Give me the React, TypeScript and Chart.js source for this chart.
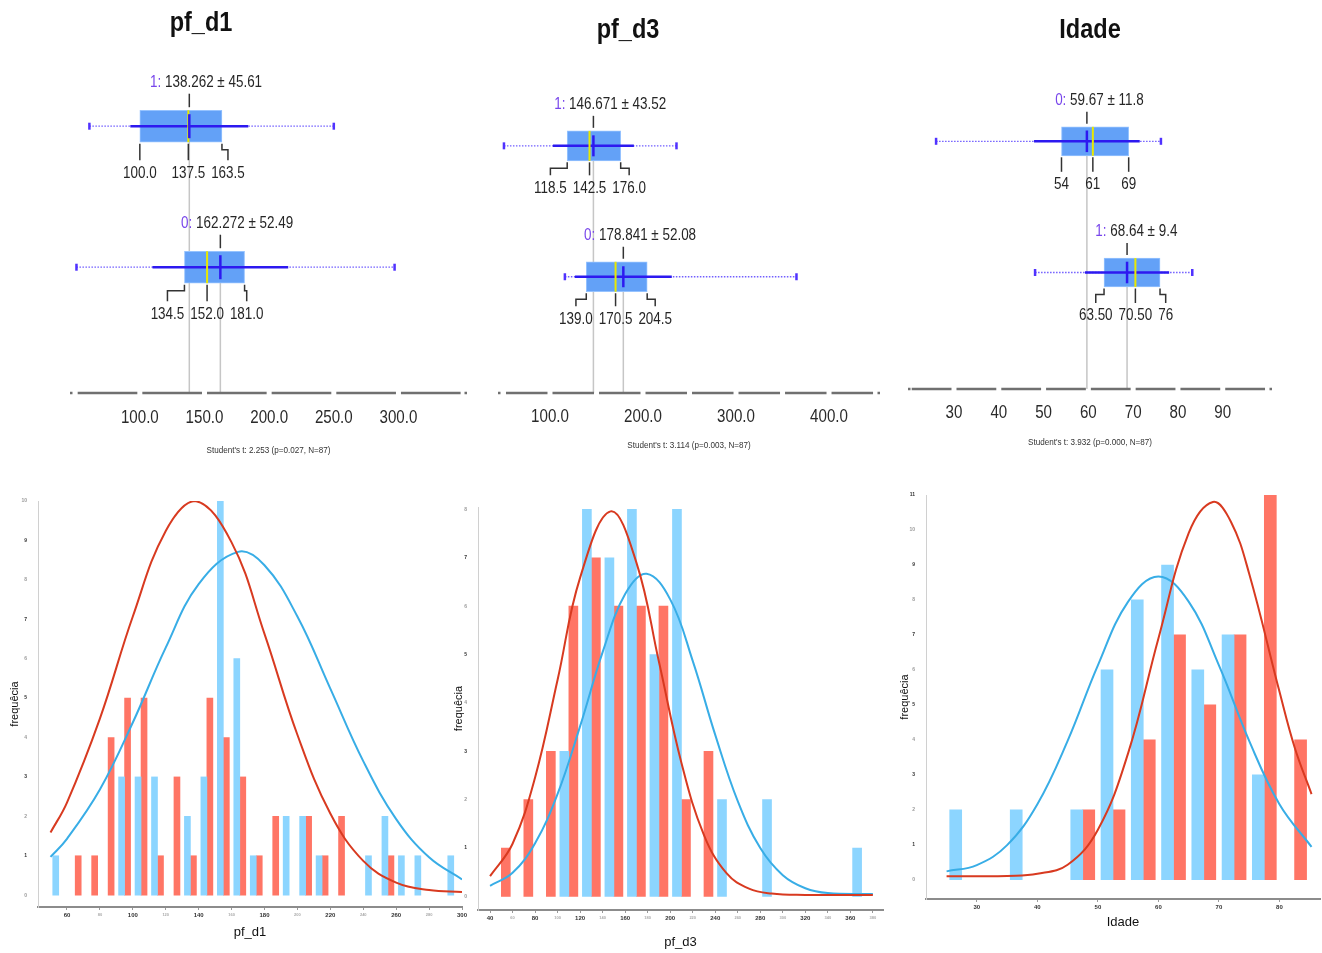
import React, { useEffect, useRef } from 'react';
import { Chart, registerables } from 'chart.js';

Chart.register(...registerables);

const SANS = '"Liberation Sans", Arial, sans-serif';

// ================= pf_d1 : box plot statistics =================
const d1Groups = ['1', '0'];
const d1Mean = [138.262, 162.272];
const d1Sd = [45.61, 52.49];
const d1Q1 = [100.0, 134.5];
const d1Median = [137.5, 152.0];
const d1Q3 = [163.5, 181.0];
const d1Min = [61, 51];
const d1Max = [250, 297];
const d1AxisTicks = [100, 150, 200, 250, 300];
const d1AxisGaps = [50, 100, 150, 200, 250, 300, 350];
const d1TTest = "Student's t: 2.253 (p=0.027, N=87)";

// ================= pf_d3 : box plot statistics =================
const d3Groups = ['1', '0'];
const d3Mean = [146.671, 178.841];
const d3Sd = [43.52, 52.08];
const d3Q1 = [118.5, 139.0];
const d3Median = [142.5, 170.5];
const d3Q3 = [176.0, 204.5];
const d3Min = [50.5, 116];
const d3Max = [236, 365];
const d3AxisTicks = [100, 200, 300, 400];
const d3AxisGaps = [50, 100, 150, 200, 250, 300, 350, 400, 450];
const d3TTest = "Student's t: 3.114 (p=0.003, N=87)";

// ================= Idade : box plot statistics =================
const idGroups = ['0', '1'];
const idMean = [59.67, 68.64];
const idSd = [11.8, 9.4];
const idQ1 = [54, 63.5];
const idMedian = [61, 70.5];
const idQ3 = [69, 76];
const idMin = [26, 48.1];
const idMax = [76.2, 83.2];
const idQLabels = [['54', '61', '69'], ['63.50', '70.50', '76']];
const idAxisTicks = [30, 40, 50, 60, 70, 80, 90];
const idAxisGaps = [20, 30, 40, 50, 60, 70, 80, 90, 100];
const idTTest = "Student's t: 3.932 (p=0.000, N=87)";

// ================= pf_d1 : histogram =================
const h1BinWidth = 10;
const h1BlueBins = [50, 90, 100, 110, 130, 140, 150, 160, 170, 190, 200, 210, 240, 250, 260, 270, 290];
const h1BlueCounts = [1, 3, 3, 3, 2, 3, 10, 6, 1, 2, 2, 1, 1, 2, 1, 1, 1];
const h1RedBins = [60, 70, 80, 90, 100, 110, 120, 130, 140, 150, 160, 170, 180, 200, 210, 220, 250];
const h1RedCounts = [1, 1, 4, 5, 5, 1, 3, 1, 5, 4, 3, 1, 2, 2, 1, 2, 1];
const h1RedCurveX = [50, 60, 80, 100, 120, 138, 160, 180, 200, 220, 240, 260, 280, 300];
const h1RedCurveY = [1.59, 2.35, 4.48, 7.07, 9.24, 10.0, 8.95, 6.63, 4.07, 2.07, 0.87, 0.32, 0.13, 0.08];
const h1BlueCurveX = [50, 60, 80, 100, 120, 140, 164, 180, 200, 220, 240, 260, 280, 300];
const h1BlueCurveY = [0.97, 1.43, 2.68, 4.38, 6.28, 7.89, 8.71, 8.37, 7.07, 5.24, 3.4, 1.93, 0.96, 0.4];
const h1XTicks = [60, 80, 100, 120, 140, 160, 180, 200, 220, 240, 260, 280, 300];
const h1XMajor = [60, 100, 140, 180, 220, 260, 300];
const h1YTicks = [0, 1, 2, 3, 4, 5, 6, 7, 8, 9, 10];

// ================= pf_d3 : histogram =================
const h2BinWidth = 20;
const h2BlueBins = [100, 120, 140, 160, 180, 200, 240, 280, 360];
const h2BlueCounts = [3, 8, 7, 8, 5, 8, 2, 2, 1];
const h2RedBins = [40, 60, 80, 100, 120, 140, 160, 180, 200, 220];
const h2RedCounts = [1, 2, 3, 6, 7, 6, 6, 6, 2, 3];
const h2RedCurveX = [40, 60, 80, 100, 120, 147, 170, 190, 210, 230, 250, 270, 290, 320, 350, 380];
const h2RedCurveY = [0.42, 1.09, 2.46, 4.48, 6.59, 7.96, 6.9, 4.85, 2.76, 1.27, 0.48, 0.16, 0.06, 0.03, 0.03, 0.03];
const h2BlueCurveX = [40, 60, 80, 100, 120, 140, 160, 179, 200, 220, 240, 260, 280, 300, 320, 340, 380];
const h2BlueCurveY = [0.22, 0.49, 1.1, 2.12, 3.52, 5.05, 6.25, 6.67, 6.14, 4.87, 3.34, 1.97, 1.0, 0.44, 0.17, 0.07, 0.05];
const h2XTicks = [40, 60, 80, 100, 120, 140, 160, 180, 200, 220, 240, 260, 280, 300, 320, 340, 360, 380];
const h2XMajor = [40, 80, 120, 160, 200, 240, 280, 320, 360];
const h2YTicks = [0, 1, 2, 3, 4, 5, 6, 7, 8];

// ================= Idade : histogram =================
const h3BinWidth = 5;
const h3BlueBins = [25, 35, 45, 50, 55, 60, 65, 70, 75];
const h3BlueCounts = [2, 2, 2, 6, 8, 9, 6, 7, 3];
const h3RedBins = [45, 50, 55, 60, 65, 70, 75, 80];
const h3RedCounts = [2, 2, 4, 7, 5, 7, 11, 4];
const h3RedCurveX = [25, 30, 35, 40, 45, 50, 55, 60, 65, 69, 72, 75, 80, 82.5, 85.3];
const h3RedCurveY = [0.1, 0.1, 0.11, 0.17, 0.43, 1.43, 3.62, 6.9, 9.91, 10.8, 10.23, 8.75, 5.38, 3.79, 2.45];
const h3BlueCurveX = [25, 30, 35, 40, 45, 50, 55, 60, 65, 70, 75, 80, 85.3];
const h3BlueCurveY = [0.24, 0.42, 0.99, 2.16, 3.97, 6.13, 7.95, 8.67, 7.95, 6.13, 3.97, 2.16, 0.94];
const h3XTicks = [30, 40, 50, 60, 70, 80];
const h3XMajor = [30, 40, 50, 60, 70, 80];
const h3YTicks = [0, 1, 2, 3, 4, 5, 6, 7, 8, 9, 10, 11];

// ----------------------------------------------------------------
const BOX_FILL = 'rgb(99,161,247)';
const BOX_EDGE = 'rgb(150,195,255)';
const SD_COLOR = 'rgb(45,25,240)';
const RANGE_COLOR = 'rgba(105,85,255,0.95)';
const MEDIAN_COLOR = '#e9e900';
const GROUP_COLOR = 'rgb(120,70,235)';
const BLUE_BAR = 'rgb(140,213,255)';
const RED_BAR = 'rgb(255,117,101)';
const BLUE_LINE = '#38ade6';
const RED_LINE = '#d83a20';
const SQUEEZE = 0.84;

const boxPanels: any[] = [
  {
    key: 'b1', groups: d1Groups, mean: d1Mean, sd: d1Sd, q1: d1Q1, median: d1Median, q3: d1Q3, min: d1Min, max: d1Max,
    qLabel: (v: number) => v.toFixed(1), axisTicks: d1AxisTicks, axisGaps: d1AxisGaps, decimals: 1, tText: d1TTest, title: 'pf_d1',
    left: 0, width: 480, padLeft: 70, padRight: 13, xMin: 46, xMax: 353, yMin: -0.895, yMax: 1.892, axisH: 77,
    boxH: 32, labelDy: -43.5, qDy: 47, tDy: 58, tickDy: 25, titleX: 201, titleY: 23, meanR: 12, medR: 16,
  },
  {
    key: 'b2', groups: d3Groups, mean: d3Mean, sd: d3Sd, q1: d3Q1, median: d3Median, q3: d3Q3, min: d3Min, max: d3Max,
    qLabel: (v: number) => v.toFixed(1), axisTicks: d3AxisTicks, axisGaps: d3AxisGaps, decimals: 1, tText: d3TTest, title: 'pf_d3',
    left: 480, width: 420, padLeft: 18, padRight: 20, xMin: 44.1, xMax: 454.8, yMin: -1.114, yMax: 1.888, axisH: 77,
    boxH: 30, labelDy: -41, qDy: 42.5, tDy: 53, tickDy: 24, titleX: 148, titleY: 30, meanR: 10.5, medR: 15,
  },
  {
    key: 'b3', groups: idGroups, mean: idMean, sd: idSd, q1: idQ1, median: idMedian, q3: idQ3, min: idMin, max: idMax,
    qLabel: (_v: number, g: number, k: number) => idQLabels[g][k], axisTicks: idAxisTicks, axisGaps: idAxisGaps, decimals: 0, tText: idTTest, title: 'Idade',
    left: 900, width: 422, padLeft: 8, padRight: 50, xMin: 19.73, xMax: 101, yMin: -1.077, yMax: 1.888, axisH: 81,
    boxH: 29, labelDy: -40.5, qDy: 43.5, tDy: 54, tickDy: 24.5, titleX: 190, titleY: 30, meanR: 10.8, medR: 14.5,
  },
];

const histPanels: any[] = [
  {
    key: 'h1', binW: h1BinWidth, blueBins: h1BlueBins, blueCounts: h1BlueCounts, redBins: h1RedBins, redCounts: h1RedCounts,
    blueCX: h1BlueCurveX, blueCY: h1BlueCurveY, redCX: h1RedCurveX, redCY: h1RedCurveY,
    xTicks: h1XTicks, xMajor: h1XMajor, yTicks: h1YTicks, title: 'pf_d1',
    left: 0, width: 470, padTop: 31, padRight: 8, yAxisW: 38, xAxisH: 46, xMin: 42.4, xMax: 300, yMin: -0.3, yMax: 10,
    barT: 6, xTitlePad: 13, yTitlePad: 8,
  },
  {
    key: 'h2', binW: h2BinWidth, blueBins: h2BlueBins, blueCounts: h2BlueCounts, redBins: h2RedBins, redCounts: h2RedCounts,
    blueCX: h2BlueCurveX, blueCY: h2BlueCurveY, redCX: h2RedCurveX, redCY: h2RedCurveY,
    xTicks: h2XTicks, xMajor: h2XMajor, yTicks: h2YTicks, title: 'pf_d3',
    left: 445, width: 445, padTop: 37, padRight: 7, yAxisW: 33, xAxisH: 43, xMin: 29.3, xMax: 389, yMin: -0.28, yMax: 8.05,
    barT: 9, xTitlePad: 3, yTitlePad: 7.5,
  },
  {
    key: 'h3', binW: h3BinWidth, blueBins: h3BlueBins, blueCounts: h3BlueCounts, redBins: h3RedBins, redCounts: h3RedCounts,
    blueCX: h3BlueCurveX, blueCY: h3BlueCurveY, redCX: h3RedCurveX, redCY: h3RedCurveY,
    xTicks: h3XTicks, xMajor: h3XMajor, yTicks: h3YTicks, title: 'Idade',
    left: 893, width: 429, padTop: 25, padRight: 2, yAxisW: 33, xAxisH: 54, xMin: 21.6, xMax: 86.7, yMin: -0.55, yMax: 11,
    barT: 12, xTitlePad: 23, yTitlePad: 5.5,
  },
];

// condensed text: real text drawn with a horizontal squeeze
function narrowText(ctx: any, text: string, x: number, y: number, align: string, color: string, sx = SQUEEZE) {
  ctx.save();
  ctx.translate(x, y);
  ctx.scale(sx, 1);
  ctx.textAlign = align;
  ctx.fillStyle = color;
  ctx.fillText(text, 0, 0);
  ctx.restore();
}

function boxTextPlugin(s: any) {
  return {
    id: 'boxText_' + s.key,
    afterDraw(chart: any) {
      const { ctx, chartArea } = chart;
      const xs = chart.scales.x;
      const ys = chart.scales.y;
      const X = (v: number) => xs.getPixelForValue(v);
      ctx.save();
      ctx.textBaseline = 'middle';
      // axis line, broken at the ticks
      const ay = chartArea.bottom;
      const stops = [chartArea.left + 3, ...s.axisGaps.map(X), chartArea.right - 3];
      ctx.strokeStyle = '#707070';
      ctx.lineWidth = 2.5;
      for (let k = 0; k < stops.length - 1; k++) {
        const a = stops[k] + 2.5;
        const b = stops[k + 1] - 2.5;
        if (b > a) {
          ctx.beginPath();
          ctx.moveTo(a, ay);
          ctx.lineTo(b, ay);
          ctx.stroke();
        }
      }
      ctx.fillStyle = '#707070';
      ctx.fillRect(chartArea.left, ay - 1.25, 2.5, 2.5);
      ctx.fillRect(chartArea.right - 2.5, ay - 1.25, 2.5, 2.5);

      // axis tick labels (ticks built by the scale)
      ctx.font = `18px ${SANS}`;
      xs.ticks.forEach((t: any) => {
        narrowText(ctx, Number(t.value).toFixed(s.decimals), X(t.value), ay + s.tickDy, 'center', '#2a2a2a');
      });

      ctx.font = `16px ${SANS}`;
      s.groups.forEach((g: string, i: number) => {
        const cy = ys.getPixelForValue(i);
        const mx = X(s.mean[i]);
        const pre = `${g}: `;
        const mid = String(s.mean[i]);
        const post = ` \u00b1 ${s.sd[i]}`;
        const wp = ctx.measureText(pre).width * SQUEEZE;
        const wm = ctx.measureText(mid).width * SQUEEZE;
        const x0 = mx - wm / 2 - wp;
        const ly = cy + s.labelDy;
        narrowText(ctx, pre, x0, ly, 'left', GROUP_COLOR);
        narrowText(ctx, mid + post, x0 + wp, ly, 'left', '#262626');
        ctx.strokeStyle = '#333';
        ctx.lineWidth = 1.5;
        ctx.beginPath();
        ctx.moveTo(mx, ly + 11);
        ctx.lineTo(mx, cy - s.boxH / 2 - 3);
        ctx.stroke();

        const qv = [s.q1[i], s.median[i], s.q3[i]];
        const qt = qv.map((v: number, k: number) => s.qLabel(v, i, k));
        const qx = qv.map(X);
        const w = qt.map((t: string) => ctx.measureText(t).width * SQUEEZE);
        const lx = [...qx];
        lx[0] = Math.min(qx[0], qx[1] - (w[0] / 2 + w[1] / 2 + 6));
        lx[2] = Math.max(qx[2], qx[1] + (w[1] / 2 + w[2] / 2 + 6));
        const qy = cy + s.qDy;
        const top = cy + s.boxH / 2 + 1.5;
        const bot = qy - 13;
        const jog = top + 6;
        for (let k = 0; k < 3; k++) {
          ctx.beginPath();
          ctx.moveTo(qx[k], top);
          if (Math.abs(lx[k] - qx[k]) > 0.5) {
            ctx.lineTo(qx[k], jog);
            ctx.lineTo(lx[k], jog);
          }
          ctx.lineTo(lx[k], bot);
          ctx.stroke();
          narrowText(ctx, qt[k], lx[k], qy, 'center', '#262626');
        }
      });

      ctx.font = `9px ${SANS}`;
      narrowText(ctx, s.tText, (chartArea.left + chartArea.right) / 2, ay + s.tDy, 'center', '#333', 0.9);

      ctx.font = `bold 28px ${SANS}`;
      narrowText(ctx, s.title, s.titleX, s.titleY, 'center', '#111', 0.84);
      ctx.restore();
    },
  };
}

function boxConfig(s: any) {
  const idx = s.groups.map((_: string, i: number) => i);
  const datasets: any[] = [];
  idx.forEach((i: number) => {
    datasets.push({
      type: 'line', data: [{ x: s.mean[i], y: i }, { x: s.mean[i], y: s.yMax }],
      borderColor: '#c6c6c6', borderWidth: 1.5, pointRadius: 0, order: 10,
    });
    datasets.push({
      type: 'line', data: [{ x: s.min[i], y: i }, { x: s.max[i], y: i }],
      borderColor: RANGE_COLOR, borderWidth: 1.3, borderDash: [1.5, 1.5], pointRadius: 0, order: 9,
    });
  });
  datasets.push({
    type: 'bar', indexAxis: 'y', grouped: false,
    data: idx.map((i: number) => ({ x: [s.q1[i], s.q3[i]], y: i })),
    backgroundColor: BOX_FILL, borderColor: BOX_EDGE, borderWidth: 1, borderSkipped: false,
    barThickness: s.boxH, order: 8,
  });
  idx.forEach((i: number) => {
    datasets.push({
      type: 'line', data: [{ x: s.mean[i] - s.sd[i], y: i }, { x: s.mean[i] + s.sd[i], y: i }],
      borderColor: SD_COLOR, borderWidth: 2.5, pointRadius: 0, order: 7,
    });
  });
  datasets.push({
    type: 'scatter', data: idx.map((i: number) => ({ x: s.median[i], y: i })),
    pointStyle: 'line', pointRotation: 90, pointRadius: s.medR, borderColor: MEDIAN_COLOR,
    pointBorderColor: MEDIAN_COLOR, pointBorderWidth: 2, order: 6,
  });
  datasets.push({
    type: 'scatter', data: idx.map((i: number) => ({ x: s.mean[i], y: i })),
    pointStyle: 'line', pointRotation: 90, pointRadius: s.meanR, borderColor: SD_COLOR,
    pointBorderColor: SD_COLOR, pointBorderWidth: 2.5, order: 5,
  });
  datasets.push({
    type: 'scatter',
    data: idx.flatMap((i: number) => [{ x: s.min[i], y: i }, { x: s.max[i], y: i }]),
    pointStyle: 'line', pointRotation: 90, pointRadius: 3.5, borderColor: 'rgb(80,50,255)',
    pointBorderColor: 'rgb(80,50,255)', pointBorderWidth: 2.5, order: 5,
  });

  return {
    type: 'bar',
    data: { datasets },
    options: {
      responsive: false,
      animation: false,
      devicePixelRatio: 1,
      layout: { autoPadding: false, padding: { left: s.padLeft, right: s.padRight, top: 0, bottom: 0 } },
      plugins: { legend: { display: false }, tooltip: { enabled: false }, title: { display: false } },
      scales: {
        x: {
          type: 'linear', min: s.xMin, max: s.xMax, offset: false,
          afterBuildTicks: (sc: any) => { sc.ticks = s.axisTicks.map((v: number) => ({ value: v })); },
          afterFit: (sc: any) => { sc.height = s.axisH; },
          grid: { display: false, drawTicks: false, offset: false },
          border: { display: false },
          ticks: { display: false, autoSkip: false },
        },
        y: { type: 'linear', display: false, min: s.yMin, max: s.yMax, reverse: true, offset: false },
      },
    },
    plugins: [boxTextPlugin(s)],
  };
}

function histConfig(h: any) {
  const half = h.binW / 2;
  return {
    type: 'bar',
    data: {
      datasets: [
        {
          type: 'line', data: h.redCX.map((x: number, i: number) => ({ x, y: h.redCY[i] })),
          borderColor: RED_LINE, borderWidth: 2, pointRadius: 0, tension: 0.4, order: 0,
        },
        {
          type: 'line', data: h.blueCX.map((x: number, i: number) => ({ x, y: h.blueCY[i] })),
          borderColor: BLUE_LINE, borderWidth: 2, pointRadius: 0, tension: 0.4, order: 0,
        },
        {
          type: 'bar', data: h.blueBins.map((b: number, i: number) => ({ x: b + half, y: h.blueCounts[i] })),
          backgroundColor: BLUE_BAR, barThickness: h.barT, order: 1,
        },
        {
          type: 'bar', data: h.redBins.map((b: number, i: number) => ({ x: b + half, y: h.redCounts[i] })),
          backgroundColor: RED_BAR, barThickness: h.barT, order: 1,
        },
      ],
    },
    options: {
      responsive: false,
      animation: false,
      devicePixelRatio: 1,
      layout: { autoPadding: false, padding: { left: 0, top: h.padTop, right: h.padRight, bottom: 0 } },
      plugins: { legend: { display: false }, tooltip: { enabled: false } },
      scales: {
        x: {
          type: 'linear', min: h.xMin, max: h.xMax, offset: false,
          afterBuildTicks: (sc: any) => { sc.ticks = h.xTicks.map((v: number) => ({ value: v })); },
          afterFit: (sc: any) => { sc.height = h.xAxisH; },
          grid: { display: true, drawOnChartArea: false, drawTicks: true, tickLength: 3, color: '#9a9a9a', offset: false },
          border: { display: true, color: '#8c8c8c', width: 2 },
          ticks: {
            autoSkip: false, maxRotation: 0, padding: 2,
            font: (c: any) => ({ family: SANS, size: h.xMajor.includes(c.tick?.value) ? 6 : 4, weight: 'bold' }),
            color: (c: any) => (h.xMajor.includes(c.tick?.value) ? '#333' : '#aaa'),
          },
          title: {
            display: true, text: h.title, color: '#111',
            font: { family: SANS, size: 13 }, padding: { top: 0, bottom: h.xTitlePad },
          },
        },
        y: {
          type: 'linear', min: h.yMin, max: h.yMax,
          afterBuildTicks: (sc: any) => { sc.ticks = h.yTicks.map((v: number) => ({ value: v })); },
          afterFit: (sc: any) => { sc.width = h.yAxisW; },
          grid: { display: false },
          border: { display: true, color: '#d0d0d0', width: 1 },
          ticks: {
            padding: 3, color: (c: any) => (c.tick?.value % 2 ? '#333' : '#999'),
            font: { family: SANS, size: 5, weight: 'bold' },
          },
          title: {
            display: true, text: 'frequêcia', color: '#111',
            font: { family: SANS, size: 11 }, padding: { top: h.yTitlePad, bottom: 0 },
          },
        },
      },
    },
  };
}

function ChartCanvas({ make, left, top, width, height }: any) {
  const ref = useRef<HTMLCanvasElement>(null);
  useEffect(() => {
    const chart = new Chart(ref.current as HTMLCanvasElement, make() as any);
    return () => chart.destroy();
  }, []);
  return (
    <canvas
      ref={ref}
      width={width}
      height={height}
      style={{ position: 'absolute', left, top, width, height }}
    />
  );
}

export default function App() {
  return (
    <div style={{ position: 'absolute', left: 0, top: 0, width: 1322, height: 953, background: '#fff', overflow: 'hidden' }}>
      {boxPanels.map((s) => (
        <ChartCanvas key={s.key} make={() => boxConfig(s)} left={s.left} top={0} width={s.width} height={470} />
      ))}
      {histPanels.map((h) => (
        <ChartCanvas key={h.key} make={() => histConfig(h)} left={h.left} top={470} width={h.width} height={483} />
      ))}
    </div>
  );
}
